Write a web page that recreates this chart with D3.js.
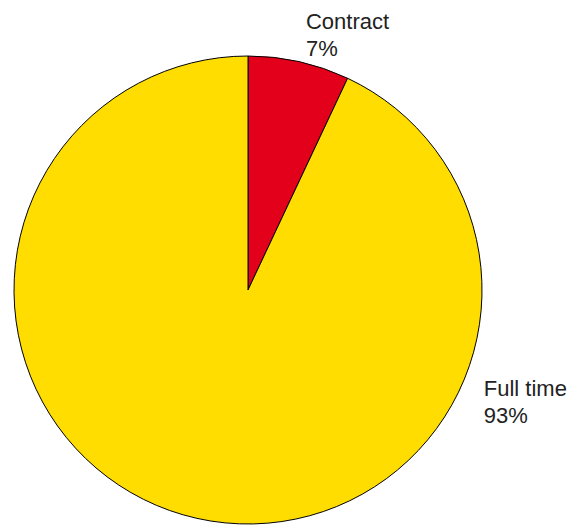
<!DOCTYPE html>
<html><head><meta charset="utf-8">
<script src="https://cdn.jsdelivr.net/npm/d3@7"></script>
<style>html,body{margin:0;padding:0;background:#fff;}svg{display:block;}</style>
</head><body>
<script>
const categories = ["Contract", "Full time"];
const values = [7, 93];
const labels = ["7%", "93%"];
const colors = ["#E2001A", "#FFDD00"];

const W = 568, H = 526;
const cx = 248, cy = 290, R = 234;
const svg = d3.select("body").append("svg").attr("width", W).attr("height", H);
const g = svg.append("g").attr("transform", `translate(${cx},${cy})`);

const pie = d3.pie().sort(null).value(d => d)(values);
const arc = d3.arc().innerRadius(0).outerRadius(R);

g.selectAll("path").data(pie).join("path")
  .attr("d", arc)
  .attr("fill", (d, i) => colors[i])
  .attr("stroke", "#000")
  .attr("stroke-width", 1);

// label anchor angles (radians, clockwise from top) and radial distance
const labelPos = [
  {ang: 0.2185, r: 267.4},
  {ang: 1.9917, r: 258.3}
];
const txt = svg.append("g").attr("font-family", "Liberation Sans, Arial, sans-serif")
  .attr("font-size", 22).attr("fill", "#222");
categories.forEach((c, i) => {
  const p = labelPos[i];
  const x = cx + p.r * Math.sin(p.ang);
  const y = cy - p.r * Math.cos(p.ang);
  const t = txt.append("text").attr("x", x).attr("y", y);
  t.append("tspan").attr("x", x).attr("dy", 0).text(c);
  t.append("tspan").attr("x", x).attr("dy", 27).text(labels[i]);
});
</script>
</body></html>
